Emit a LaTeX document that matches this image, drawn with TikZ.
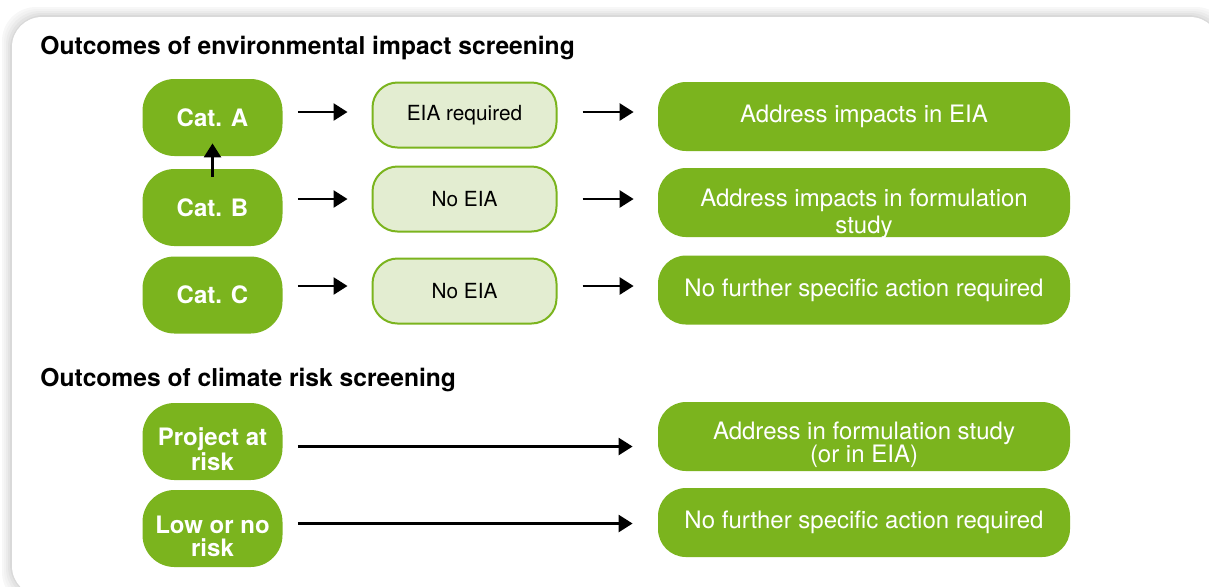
\documentclass[tikz,border=0pt]{standalone}
\usepackage{fontspec}
\setmainfont{TeX Gyre Heros}
\usetikzlibrary{arrows.meta}

\definecolor{eiagreen}{HTML}{7BB41E}
\definecolor{eialight}{HTML}{E3EDD1}

\tikzset{
	cat/.style={fill=eiagreen, text=white, rounded corners=16pt, minimum width=70pt, minimum height=38.5pt, inner sep=0pt, align=center, font=\fontsize{12}{11.5}\selectfont\bfseries},
	cattext/.style={text=white, inner sep=0pt, align=center, font=\fontsize{12}{11.5}\selectfont\bfseries},
	eia/.style={fill=eialight, draw=eiagreen, line width=1pt, rounded corners=12.5pt, minimum width=92pt, minimum height=32.5pt, inner sep=0pt, font=\fontsize{10.4}{12}\selectfont},
	act/.style={fill=eiagreen, text=white, rounded corners=14pt, minimum width=206pt, minimum height=34.5pt, inner sep=0pt, align=center, font=\fontsize{12}{11.5}\selectfont},
	acttext/.style={text=white, inner sep=0pt, align=center, font=\fontsize{12}{11.5}\selectfont},
	head/.style={anchor=base west, inner sep=0pt, font=\fontsize{12.3}{14}\selectfont\bfseries},
	arr/.style={-{Triangle[length=7pt, width=8.5pt]}, line width=1.3pt},
}

\begin{document}
\begin{tikzpicture}[x=0.5pt, y=-0.5pt]

	\useasboundingbox (0, 0) rectangle (1209, 586);
	\clip (0, 0) rectangle (1209, 586);

	% panel with its shadow
	\foreach \s/\g in {10/3, 8/5, 6/8, 4/11, 2/15} {
		\fill[black!\g, rounded corners=17pt] (12-\s, 17-\s) rectangle (1220+\s, 596+\s);
	}
	\fill[white, rounded corners=15pt] (12, 17) rectangle (1220, 596);

	\node[head] (headEnv) at (40, 54) {Outcomes of environmental impact screening};
	\node[head] (headClim) at (40, 386) {Outcomes of climate risk screening};

	% environmental impact
	\node[cat] (catA) at (212.5, 117.5) {Cat. A};
	\node[cat] (catB) at (212.5, 207.5) {Cat. B};
	\node[cat] (catC) at (212.5, 295) {Cat. C};

	\node[eia] (eiaA) at (464.5, 115) {EIA required};
	\node[eia] (eiaB) at (464.5, 199) {No EIA};
	\node[eia] (eiaC) at (464.5, 291) {No EIA};

	\node[act] (actA) at (864, 116.5) {Address impacts in EIA};
	\node[act] (actB) at (864, 202.5) {};
	\begin{scope}
		\clip[rounded corners=14pt] (actB.south west) rectangle (actB.north east);
		\node[acttext, font=\fontsize{12}{13.5}\selectfont] (actBtext) at (864, 214) {Address impacts in formulation\\study};
	\end{scope}
	\node[act] (actC) at (864, 290) {No further specific action required};

	\foreach \n/\dy in {A/1.5, B/0, C/2.5} {
		\draw[arr, shorten <=7.5pt, shorten >=12pt] ([yshift=\dy pt]cat\n.east |- eia\n.west) -- ([yshift=\dy pt]eia\n.west);
		\draw[arr, shorten <=12.5pt, shorten >=12pt] ([yshift=\dy pt]eia\n.east) -- ([yshift=\dy pt]act\n.west |- eia\n.east);
	}

	\draw[arr] ([yshift=-4pt]catB.north) -- ([yshift=6.5pt]catA.south);

	% climate risk
	\node[cat] (riskH) at (212.5, 441.5) {};
	\node[cattext] (riskHtext) at (212.5, 449) {Project at\\risk};
	\node[cat] (riskL) at (212.5, 528.5) {};
	\node[cattext] (riskLtext) at (212.5, 536) {Low or no\\risk};

	\node[act] (actH) at (864, 436.5) {};
	\node[acttext] (actHtext) at (864, 445) {Address in formulation study\\(or in EIA)};
	\node[act] (actL) at (864, 522.5) {No further specific action required};

	\draw[arr, shorten <=7.5pt, shorten >=12.5pt] ([yshift=-2.5pt]riskH.east) -- ([yshift=-2.5pt]actH.west |- riskH.east);
	\draw[arr, shorten <=7.5pt, shorten >=12.5pt] ([yshift=2.5pt]riskL.east) -- ([yshift=2.5pt]actL.west |- riskL.east);

\end{tikzpicture}
\end{document}
